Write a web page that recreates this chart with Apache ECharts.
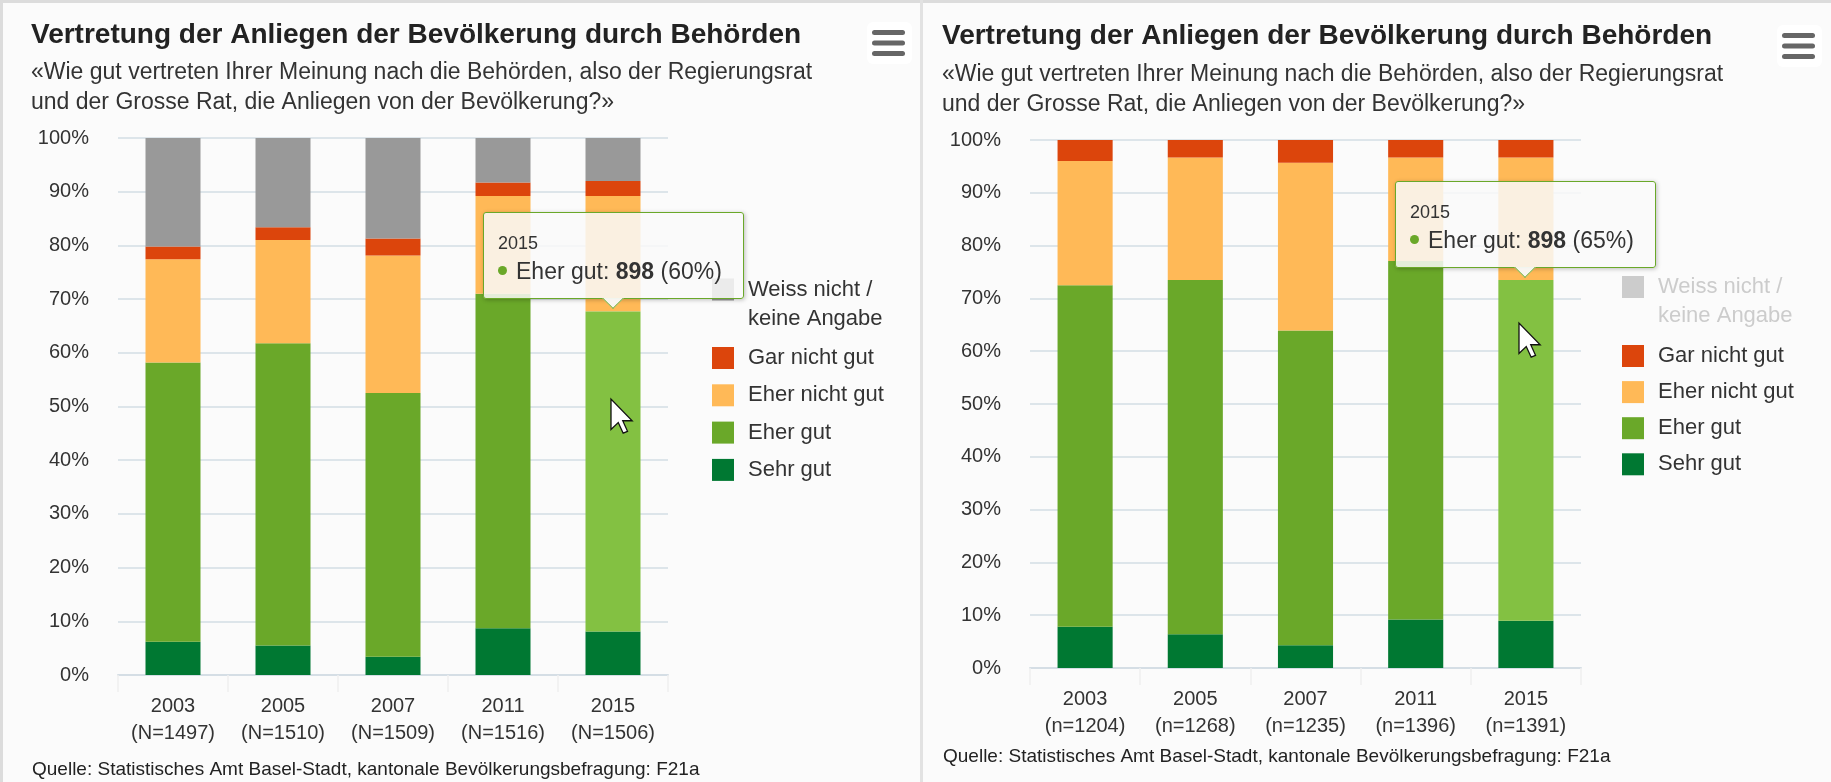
<!DOCTYPE html>
<html>
<head>
<meta charset="utf-8">
<script src="https://cdn.jsdelivr.net/npm/echarts@6/dist/echarts.min.js"></script>
<style>
html,body{margin:0;padding:0;width:1831px;height:782px;overflow:hidden;background:#fbfbfb;}
#topline{position:absolute;left:0;top:0;width:1831px;height:3px;background:#dcdcdc;}
#leftline{position:absolute;left:0;top:0;width:3px;height:782px;background:#dcdcdc;}
#divider{position:absolute;left:920px;top:0;width:3px;height:782px;background:#e2e2e2;}
#c1{position:absolute;left:4px;top:4px;width:916px;height:778px;}
#c2{position:absolute;left:923px;top:4px;width:908px;height:778px;}
</style>
</head>
<body>
<div id="topline"></div><div id="leftline"></div><div id="divider"></div>
<div id="c1"></div>
<div id="c2"></div>
<script>
// ---------- data ----------
const years = ['2003', '2005', '2007', '2011', '2015'];
const nLeft = [1497, 1510, 1509, 1516, 1506];
const nRight = [1204, 1268, 1235, 1396, 1391];
const seriesNames = ['Sehr gut', 'Eher gut', 'Eher nicht gut', 'Gar nicht gut', 'Weiss nicht / keine Angabe'];
const seriesColors = ['#007832', '#6aa829', '#ffb957', '#dc450c', '#999999'];
// left chart: percent of all answers (N)
const leftSehrGut = [6.2, 5.5, 3.4, 8.7, 8.1];
const leftEherGut = [52.0, 56.3, 49.1, 62.3, 59.6];
const leftEherNichtGut = [19.2, 19.2, 25.6, 18.2, 21.5];
const leftGarNichtGut = [2.4, 2.4, 3.2, 2.5, 2.8];
const leftWeissNicht = [20.2, 16.6, 18.7, 8.3, 8.0];
// right chart: "Weiss nicht" switched off, percent of valid answers (n)
const rightSehrGut = [7.8, 6.4, 4.3, 9.2, 8.95];
const rightEherGut = [64.7, 67.1, 59.6, 67.9, 64.55];
const rightEherNichtGut = [23.5, 23.2, 31.8, 19.6, 23.2];
const rightGarNichtGut = [4.0, 3.3, 4.3, 3.3, 3.3];
const rightWeissNicht = [20.2, 16.6, 18.7, 8.3, 8.0];

const titleText = 'Vertretung der Anliegen der Bevölkerung durch Behörden';
const subtitleText = '«Wie gut vertreten Ihrer Meinung nach die Behörden, also der Regierungsrat\nund der Grosse Rat, die Anliegen von der Bevölkerung?»';
const sourceText = 'Quelle: Statistisches Amt Basel-Stadt, kantonale Bevölkerungsbefragung: F21a';

const FONT = "'Liberation Sans', Arial, Helvetica, sans-serif";

function cursorPoints(tx, ty) {
  const base = [[0,0],[0,21],[5,16.2],[8.4,23.6],[11.4,22.3],[8.1,15],[14.6,15]];
  const s = 1.45;
  return base.map(p => [tx + p[0]*s, ty + p[1]*s]);
}

function buildOption(cfg) {
  const values = cfg.values;
  const series = seriesNames.map((name, i) => ({
    name: name,
    type: 'bar',
    stack: 'total',
    barWidth: '50%',
    data: values[i],
    itemStyle: { color: seriesColors[i] },
    emphasis: { itemStyle: { color: i === 1 ? '#83c142' : seriesColors[i] } },
    z: 2
  }));
  const selected = {};
  selected[seriesNames[4]] = cfg.showWeiss;
  const legendCommon = {
    orient: 'vertical',
    left: cfg.legendLeft,
    padding: 0,
    itemWidth: 22,
    itemHeight: 22,
    icon: 'rect',
    inactiveColor: '#cccccc',
    textStyle: { fontFamily: FONT, fontSize: 22, lineHeight: 28, color: '#333', padding: [0, 0, 0, 9] }
  };
  return {
    animation: false,
    backgroundColor: 'transparent',
    textStyle: { fontFamily: FONT },
    title: [
      { text: titleText, left: cfg.titleLeft, top: cfg.titleTop, padding: 0,
        textStyle: { fontFamily: FONT, fontSize: 28, fontWeight: 'bold', color: '#222', lineHeight: 34 } },
      { text: subtitleText, left: cfg.titleLeft, top: cfg.subTop, padding: 0,
        textStyle: { fontFamily: FONT, fontSize: 23, fontWeight: 'normal', color: '#333', lineHeight: 30 } },
      { text: sourceText, left: cfg.titleLeft + 1, top: cfg.sourceTop, padding: 0,
        textStyle: { fontFamily: FONT, fontSize: 19, fontWeight: 'normal', color: '#222', lineHeight: 24 } }
    ],
    grid: { left: cfg.grid[0], top: cfg.grid[1], width: cfg.grid[2], height: cfg.grid[3], containLabel: false },
    legend: [
      Object.assign({}, legendCommon, {
        top: cfg.legendTopA,
        data: [seriesNames[4]],
        selected: selected,
        formatter: () => 'Weiss nicht /'
      }),
      Object.assign({}, legendCommon, {
        top: cfg.legendTopB,
        itemGap: cfg.legendGap,
        data: [seriesNames[3], seriesNames[2], seriesNames[1], seriesNames[0]]
      })
    ],
    tooltip: {
      trigger: 'item',
      triggerOn: 'none',
      alwaysShowContent: true,
      transitionDuration: 0,
      backgroundColor: 'rgba(249,249,249,0.85)',
      borderColor: '#6aa829',
      borderWidth: 1.5,
      padding: [17, 21, 12, 14],
      extraCssText: 'box-shadow:1px 1px 4px rgba(0,0,0,0.25);border-radius:3px;',
      position: function (point, params, dom, rect, size) {
        return [rect.x + rect.width / 2 - size.contentSize[0] / 2, rect.y - size.contentSize[1] - 12];
      },
      formatter: function (p) {
        const n = cfg.n[p.dataIndex];
        const count = Math.round(p.value * n / 100);
        const pct = Math.round(p.value);
        return '<div style="font-size:18px;line-height:26px;color:#333;">' + years[p.dataIndex] + '</div>' +
          '<div style="font-size:23px;line-height:30px;color:#333;white-space:nowrap;">' +
          '<span style="display:inline-block;width:9px;height:9px;border-radius:50%;background:' + seriesColors[p.seriesIndex] + ';vertical-align:middle;margin-right:9px;position:relative;top:-2px;"></span>' +
          p.seriesName + ': <b>' + count + '</b> (' + pct + '%)</div>' +
          '<div style="position:absolute;left:50%;bottom:-8px;width:15px;height:15px;margin-left:-8px;transform:rotate(45deg);background:rgba(249,249,249,0.95);border-right:1.5px solid #6aa829;border-bottom:1.5px solid #6aa829;clip-path:polygon(100% 0,100% 100%,0 100%);"></div>';
      }
    },
    xAxis: {
      type: 'category',
      data: years.map((y, i) => y + '\n(' + cfg.nLabel + '=' + cfg.n[i] + ')'),
      axisLine: { lineStyle: { color: '#d5dee5', width: 2 } },
      axisTick: { show: true, length: 17, lineStyle: { color: '#f0f0f0', width: 1.5 } },
      axisLabel: { fontFamily: FONT, fontSize: 20, lineHeight: 27, color: '#333', margin: 18 }
    },
    yAxis: {
      type: 'value',
      min: 0,
      max: 100,
      interval: 10,
      axisLine: { show: false },
      axisTick: { show: false },
      splitLine: { lineStyle: { color: '#dde5ea', width: 2 } },
      axisLabel: { fontFamily: FONT, fontSize: 20, color: '#333', margin: 29, formatter: '{value}%' }
    },
    graphic: [
      { type: 'text', x: cfg.legendLeft + 36, y: cfg.legendTopA + 14 + cfg.line2Offset,
        style: { text: 'keine Angabe', fontFamily: FONT, fontSize: 22, fill: cfg.showWeiss ? '#333' : '#cccccc', verticalAlign: 'middle', align: 'left' } },
      { type: 'rect', left: cfg.menu[0], top: cfg.menu[1], shape: { width: 45, height: 42, r: 6 }, style: { fill: '#ffffff' }, z: 10 },
      { type: 'rect', left: cfg.menu[0] + 5, top: cfg.menu[1] + 8, shape: { width: 33, height: 5, r: 2.5 }, style: { fill: '#666' }, z: 11 },
      { type: 'rect', left: cfg.menu[0] + 5, top: cfg.menu[1] + 18.5, shape: { width: 33, height: 5, r: 2.5 }, style: { fill: '#666' }, z: 11 },
      { type: 'rect', left: cfg.menu[0] + 5, top: cfg.menu[1] + 29, shape: { width: 33, height: 5, r: 2.5 }, style: { fill: '#666' }, z: 11 },
      { type: 'polygon', shape: { points: cursorPoints(cfg.cursor[0], cfg.cursor[1]) },
        style: { fill: '#ffffff', stroke: '#111', lineWidth: 1.3 }, z: 100 }
    ],
    series: series
  };
}

const chart1 = echarts.init(document.getElementById('c1'), null, { renderer: 'canvas' });
chart1.setOption(buildOption({
  values: [leftSehrGut, leftEherGut, leftEherNichtGut, leftGarNichtGut, leftWeissNicht],
  n: nLeft, nLabel: 'N', showWeiss: true,
  titleLeft: 27, titleTop: 14, subTop: 54, sourceTop: 754,
  grid: [114, 134, 550, 537],
  legendLeft: 708, legendTopA: 271.5, legendTopB: 340, legendGap: 9.3, line2Offset: 29,
  menu: [863, 18],
  cursor: [607, 395]
}));

const chart2 = echarts.init(document.getElementById('c2'), null, { renderer: 'canvas' });
chart2.setOption(buildOption({
  values: [rightSehrGut, rightEherGut, rightEherNichtGut, rightGarNichtGut, rightWeissNicht],
  n: nRight, nLabel: 'n', showWeiss: false,
  titleLeft: 19, titleTop: 15.5, subTop: 56, sourceTop: 740.5,
  grid: [107, 136, 551, 528],
  legendLeft: 699, legendTopA: 269, legendTopB: 338, legendGap: 8.1, line2Offset: 29,
  menu: [854, 21],
  cursor: [596, 319]
}));

function showHover() {
  [chart1, chart2].forEach(c => {
    c.dispatchAction({ type: 'highlight', seriesIndex: 1, dataIndex: 4 });
    c.dispatchAction({ type: 'showTip', seriesIndex: 1, dataIndex: 4 });
  });
}
showHover();
setTimeout(showHover, 30);
</script>
</body>
</html>
